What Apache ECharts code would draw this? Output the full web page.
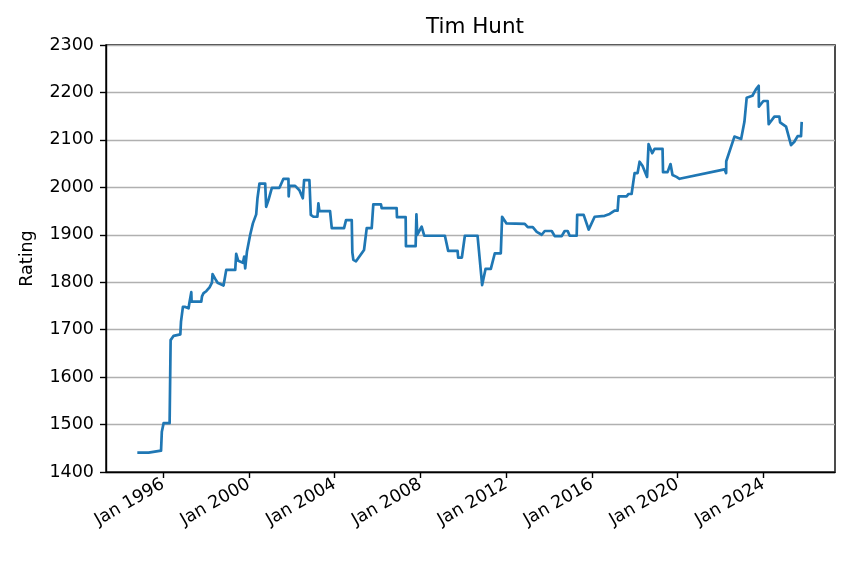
<!DOCTYPE html>
<html>
<head>
<meta charset="utf-8">
<script src="https://cdn.jsdelivr.net/npm/echarts@6/dist/echarts.min.js"></script>
<style>html,body{margin:0;padding:0;background:#fff}#c{width:849px;height:561px}</style>
</head>
<body>
<div id="c"></div>
<script>
const title = 'Tim Hunt';
const yName = 'Rating';
// decimal years
const years = [
1994.864,1995.329,1995.376,1995.907,1995.944,1996.028,1996.307,1996.354,1996.494,1996.806,
1996.838,1996.913,1996.927,1997.038,1997.192,1997.225,1997.318,1997.332,1997.784,1997.816,
1997.891,1998.016,1998.170,1998.282,1998.310,1998.435,1998.543,1998.822,1998.948,1999.367,
1999.413,1999.506,1999.725,1999.786,1999.832,1999.912,2000.065,2000.191,2000.345,2000.405,
2000.498,2000.764,2000.810,2000.917,2001.076,2001.430,2001.495,2001.616,2001.849,2001.860,
2001.895,2002.161,2002.361,2002.519,2002.580,2002.827,2002.892,2003.013,2003.199,2003.246,
2003.292,2003.790,2003.870,2004.442,2004.535,2004.801,2004.829,2004.876,2005.001,2005.374,
2005.500,2005.732,2005.807,2006.165,2006.198,2006.896,2006.910,2007.316,2007.329,2007.781,
2007.818,2007.856,2008.061,2008.182,2009.146,2009.299,2009.737,2009.765,2009.937,2010.077,
2010.668,2010.883,2011.041,2011.288,2011.474,2011.753,2011.814,2012.019,2012.871,2013.011,
2013.244,2013.429,2013.662,2013.802,2014.128,2014.268,2014.594,2014.733,2014.873,2014.966,
2015.292,2015.316,2015.618,2015.851,2016.130,2016.596,2016.689,2016.829,2017.062,2017.201,
2017.248,2017.620,2017.713,2017.853,2017.993,2018.133,2018.226,2018.366,2018.575,2018.645,
2018.817,2018.925,2019.297,2019.320,2019.530,2019.669,2019.762,2019.949,2020.089,2022.185,
2022.263,2022.268,2022.650,2022.962,2023.115,2023.208,2023.222,2023.488,2023.660,2023.781,
2023.790,2023.999,2024.200,2024.247,2024.512,2024.745,2024.778,2025.057,2025.290,2025.444,
2025.597,2025.756,2025.784
];
const ratings = [
1441,1441,1445,1445,1485,1503,1503,1678,1687,1690,
1717,1720,1748,1748,1745,1755,1779,1759,1759,1770,
1777,1781,1789,1799,1817,1807,1799,1793,1826,1826,
1860,1845,1841,1854,1829,1864,1900,1924,1943,1977,
2008,2008,1959,1973,1999,1999,2003,2018,2018,1981,
2003,2003,1994,1977,2015,2015,1942,1938,1938,1966,
1950,1950,1914,1914,1931,1931,1863,1847,1844,1868,
1914,1914,1964,1964,1956,1956,1937,1937,1876,1876,
1943,1900,1917,1898,1898,1866,1866,1852,1852,1898,
1898,1794,1828,1828,1861,1861,1938,1924,1923,1916,
1916,1906,1900,1908,1908,1897,1897,1908,1908,1898,
1898,1942,1942,1911,1938,1940,1944,1944,1951,1951,
1981,1981,1986,1986,2030,2030,2054,2045,2022,2091,
2072,2081,2081,2032,2032,2049,2026,2022,2018,2038,
2030,2055,2107,2102,2138,2138,2189,2193,2207,2214,
2170,2182,2182,2133,2149,2149,2137,2128,2089,2096,
2108,2108,2135
];
const xTicks = [1996,2000,2004,2008,2012,2016,2020,2024];
const yTicks = [1400,1500,1600,1700,1800,1900,2000,2100,2200,2300];

const data = years.map((y,i)=>[y, ratings[i]]);
const font = 'DejaVu Sans';
const chart = echarts.init(document.getElementById('c'), null, {renderer:'canvas'});
chart.setOption({
  animation:false,
  backgroundColor:'#fff',
  title:{text:title, left:470, top:11, textAlign:'center',
    textStyle:{fontFamily:font,fontSize:21.5,fontWeight:'normal',color:'#000'}},
  grid:{left:106,right:14,top:45,bottom:89,show:true,borderColor:'#000',borderWidth:1.4,backgroundColor:'transparent'},
  xAxis:{type:'value',min:1993.34,max:2027.34,
    axisLine:{show:true,lineStyle:{color:'#000',width:1.4}},
    axisTick:{show:true,length:6,lineStyle:{color:'#000',width:1.4},customValues:xTicks},
    axisLabel:{customValues:xTicks,rotate:30,margin:11,color:'#000',fontFamily:font,fontSize:17.5,
      formatter:v=>'Jan '+Math.round(v)},
    splitLine:{show:false}},
  yAxis:{type:'value',min:yTicks[0],max:yTicks[yTicks.length-1],interval:100,
    name:yName,nameLocation:'middle',nameGap:70,nameRotate:90,
    nameTextStyle:{fontFamily:font,fontSize:17.5,color:'#000'},
    axisLine:{show:true,lineStyle:{color:'#000',width:1.4}},
    axisTick:{show:true,length:6,lineStyle:{color:'#000',width:1.4}},
    axisLabel:{margin:12,color:'#000',fontFamily:font,fontSize:17.5,formatter:v=>String(v)},
    splitLine:{show:true,lineStyle:{color:'#b0b0b0',width:1.4}}},
  series:[{type:'line',data:data,showSymbol:false,symbol:'none',
    lineStyle:{color:'#1f77b4',width:2.7,cap:'square',join:'round'},z:3}]
});
</script>
</body>
</html>
